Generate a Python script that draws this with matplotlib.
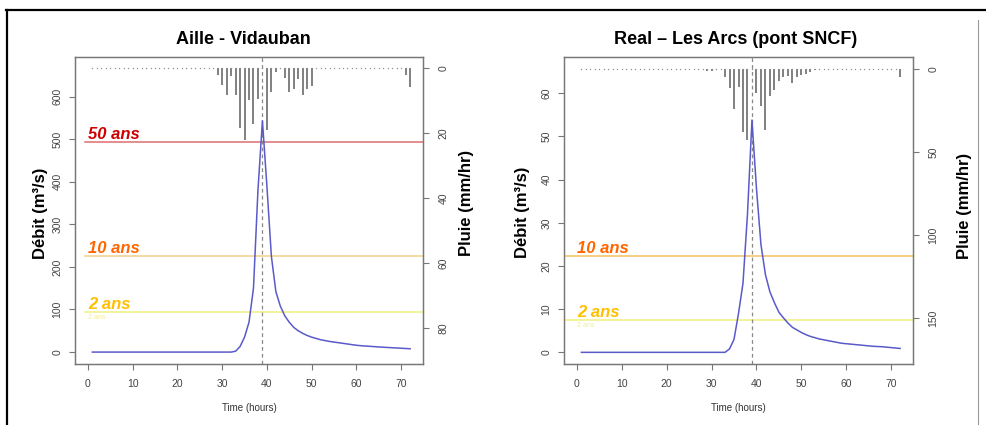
import matplotlib
matplotlib.use('Agg')
import matplotlib.pyplot as plt
from matplotlib.lines import Line2D

plt.rcParams['font.family'] = ['Liberation Sans', 'DejaVu Sans']

hours = list(range(1, 73))

# Aille - Vidauban : flow (m3/s) and rain (mm/hr), hourly
aille_flow = [0] * 32 + [2, 13, 35, 70, 150, 380, 543, 390, 225, 142,
                         108, 85, 70, 58, 50, 44, 39, 35, 32, 29,
                         27, 25, 23.5, 22, 20.5, 19, 17.5, 16, 15, 14.2,
                         13.5, 12.8, 12, 11.4, 10.8, 10.2, 9.6, 9, 8.4, 7.8]
aille_rain = [0] * 28 + [2, 5, 8.2, 2.3, 8.3, 18.5, 22, 9.7, 17, 9.5, 0,
                         19, 7.2, 1, 0, 3.1, 7.2, 6.2, 3.3, 8.2, 6.3, 5.3] + [0] * 20 + [2, 5.6]
aille_levels = [94, 225, 494]

# Real - Les Arcs
real_flow = [0] * 33 + [0.8, 3, 9, 16, 32, 53.8, 38, 25, 18, 14,
                        11.5, 9.3, 8, 6.8, 5.8, 5.2, 4.6, 4.1, 3.7, 3.4,
                        3.1, 2.9, 2.7, 2.5, 2.3, 2.1, 2.0, 1.9, 1.8, 1.7,
                        1.6, 1.5, 1.4, 1.35, 1.3, 1.2, 1.1, 1.0, 0.9]
real_rain = [0] * 28 + [1.2, 1.5, 0, 0, 4.6, 11.6, 24, 11, 37.8, 42.8, 0,
                        14.7, 22.3, 36.8, 16, 12.4, 7.3, 4.6, 4, 8.2,
                        4.8, 3.6, 3, 1.6, 0.5] + [0] * 18 + [5]
real_levels = [7.5, 22.4]

level_names = ['2 ans', '10 ans', '50 ans']
peak_hour = 39

W, H = 986, 425
fig = plt.figure(figsize=(W / 100, H / 100), dpi=100)

grey = '#777777'
tick_col = '#444444'


def panel(left, right, title, flow, rain, levels, qlim, qticks, rlim, rticks,
          line_cols, line_start, title_x, lab_x, lab_y):
    ax = fig.add_axes([left / W, (H - 364) / H, (right - left) / W, 307 / H])
    ax.plot(hours, flow, color='#5a5ac8', lw=1.1, zorder=3)
    ax.axvline(peak_hour, color='#888888', ls=(0, (3, 2.5)), lw=0.9, zorder=2)
    for lvl, name, col in zip(levels, level_names, line_cols):
        ax.axhline(lvl, xmin=line_start, xmax=1, color=col, lw=1.1, zorder=1)
    ax.set_xlim(-2.88, 74.88)
    ax.set_ylim(*qlim)
    ax.set_xticks(range(0, 71, 10))
    ax.set_yticks(qticks)
    ax.tick_params(axis='both', direction='out', length=4, width=0.8,
                   color=grey, labelcolor=tick_col, labelsize=7.5)
    ax.tick_params(axis='x', pad=7)
    ax.tick_params(axis='y', pad=5)
    for lbl in ax.get_yticklabels():
        lbl.set_rotation(90)
        lbl.set_va('center')
    for s in ax.spines.values():
        s.set_color(grey)
        s.set_linewidth(0.9)

    # return level labels
    label_cols = {'2 ans': '#ffc000', '10 ans': '#ff6600', '50 ans': '#cc0000'}
    for lvl, name in zip(levels, level_names):
        ax.annotate(name, (0, lvl), xytext=(0, 2), textcoords='offset points',
                    color=label_cols[name], fontsize=12, fontweight='bold',
                    fontstyle='italic', ha='left', va='baseline', zorder=4)
    ax.annotate('2 ans', (0, levels[0]), xytext=(0, -5), textcoords='offset points',
                color='#f4ec90', fontsize=5, ha='left', va='baseline', zorder=1)

    ax2 = ax.twinx()
    ax2.vlines(hours, 0, rain, color='#808080', lw=1.4)
    ax2.plot(hours, [0] * len(hours), ls='none', marker='o', ms=1.0,
             mec='none', mfc='#909090')
    ax2.set_ylim(*rlim)
    ax2.set_yticks(rticks)
    ax2.tick_params(axis='y', direction='out', length=4, width=0.8,
                    color=grey, labelcolor=tick_col, labelsize=7.5, pad=7)
    for lbl in ax2.get_yticklabels():
        lbl.set_rotation(90)
        lbl.set_va('center')
    for s in ax2.spines.values():
        s.set_color(grey)
        s.set_linewidth(0.9)

    fig.text(title_x / W, 1 - 39 / H, title, ha='center', va='center',
             fontsize=13, fontweight='bold')
    fig.text(lab_x[0] / W, 1 - lab_y[0] / H, 'Débit (m³/s)', rotation=90,
             ha='center', va='center', fontsize=12, fontweight='bold')
    fig.text(lab_x[1] / W, 1 - lab_y[1] / H, 'Pluie (mm/hr)', rotation=90,
             ha='center', va='center', fontsize=12, fontweight='bold')
    fig.text((left + right) / 2 / W, 1 - 408 / H, 'Time (hours)', ha='center',
             va='center', fontsize=7, color='#333333')


panel(75, 423, 'Aille - Vidauban', aille_flow, aille_rain, aille_levels,
      (-28, 693), range(0, 601, 100), (91, -3.5), [0, 20, 40, 60, 80],
      ['#f0f080', '#f2d08a', '#de6f6f'], 0.029, 243, (40, 467), (213, 203))

panel(564, 913, 'Real \u2013 Les Arcs (pont SNCF)', real_flow, real_rain, real_levels,
      (-2.7, 68.4), range(0, 61, 10), (177.5, -7.2), [0, 50, 100, 150],
      ['#f0f080', '#f5c060'], 0.0, 736, (523, 965), (212, 206))

# frame lines of the original slide
fig.add_artist(Line2D([6 / W, 1], [1 - 9.5 / H] * 2, color='black', lw=1.6))
fig.add_artist(Line2D([6.5 / W] * 2, [0, 1 - 9.5 / H], color='black', lw=1.6))
fig.add_artist(Line2D([977.5 / W] * 2, [0, 1 - 20 / H], color='#999999', lw=0.8))

fig.savefig('out.png', dpi=100)
